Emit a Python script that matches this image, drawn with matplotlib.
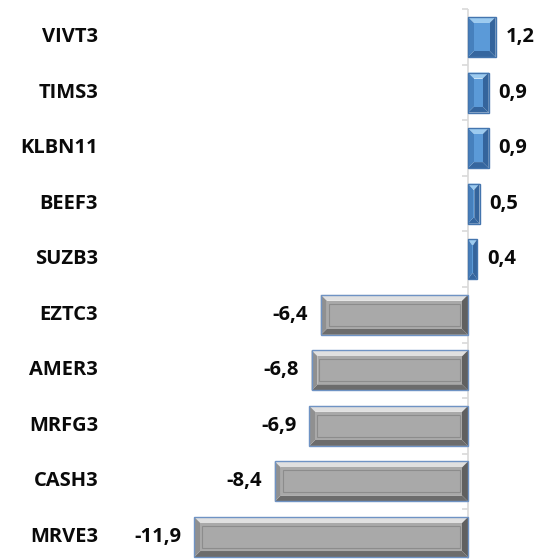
import matplotlib.pyplot as plt
from matplotlib.patches import Polygon, Rectangle

# data
tickers = ['VIVT3', 'TIMS3', 'KLBN11', 'BEEF3', 'SUZB3',
           'EZTC3', 'AMER3', 'MRFG3', 'CASH3', 'MRVE3']
values = [1.2, 0.9, 0.9, 0.5, 0.4, -6.4, -6.8, -6.9, -8.4, -11.9]

W, H = 543, 559
fig = plt.figure(figsize=(W / 100, H / 100), dpi=100)
left_px = 150
ax = fig.add_axes([left_px / W, 0, 1 - left_px / W, 1])

px_per_unit = 23.0
zero_px = 468
ax.set_xlim((left_px - zero_px) / px_per_unit, (W - zero_px) / px_per_unit)
row_px = 55.6
ax.set_ylim(9 + (H - 537) / row_px, -37 / row_px)
ax.axis('off')

font = dict(fontsize=14.5, fontweight='bold', family='Open Sans', color='#0a0a0a')

ypos = list(range(len(tickers)))
bars = ax.barh(ypos, values, height=0.72, color='none', edgecolor='none')

# bevel look
bx_data = 6 / px_per_unit
by_data = 6 / row_px
for bar, v in zip(bars, values):
    x0 = min(bar.get_x(), bar.get_x() + bar.get_width())
    x1 = max(bar.get_x(), bar.get_x() + bar.get_width())
    y0 = bar.get_y()
    y1 = bar.get_y() + bar.get_height()
    if v >= 0:
        face, top, bot, lft, rgt = '#5b9ad8', '#9ccbf0', '#35669f', '#4680bd', '#34649c'
        edge = '#4475ae'
    else:
        face, top, bot, lft, rgt = '#a9a9a9', '#e0e0e0', '#6c6c6c', '#909090', '#606060'
        edge = '#6f93c4'
    bx = min(bx_data, (x1 - x0) / 2.2)
    ix0, ix1 = x0 + bx, x1 - bx
    iy0, iy1 = y0 + by_data, y1 - by_data
    # y axis inverted: y0 is visually the top
    ax.add_patch(Polygon([(x0, y0), (x1, y0), (ix1, iy0), (ix0, iy0)], closed=True, fc=top, ec='none'))
    ax.add_patch(Polygon([(x0, y1), (x1, y1), (ix1, iy1), (ix0, iy1)], closed=True, fc=bot, ec='none'))
    ax.add_patch(Polygon([(x0, y0), (ix0, iy0), (ix0, iy1), (x0, y1)], closed=True, fc=lft, ec='none'))
    ax.add_patch(Polygon([(x1, y0), (ix1, iy0), (ix1, iy1), (x1, y1)], closed=True, fc=rgt, ec='none'))
    ax.add_patch(Rectangle((ix0, iy0), ix1 - ix0, iy1 - iy0, fc=face, ec='none'))
    if v < 0:
        ax.add_patch(Rectangle((ix0 + 0.3 * bx, iy0 + 0.5 * by_data),
                               ix1 - ix0 - 0.6 * bx, iy1 - iy0 - 1.0 * by_data,
                               fc='none', ec='#8c8c8c', lw=0.8))
    ax.add_patch(Rectangle((x0, y0), x1 - x0, y1 - y0, fc='none', ec=edge, lw=1.0))

    label = f'{v:.1f}'.replace('.', ',')
    yc = bar.get_y() + bar.get_height() / 2
    if v >= 0:
        ax.text(x1 + 10 / px_per_unit, yc, label, ha='left', va='center', **font)
    else:
        ax.text(x0 - 13 / px_per_unit, yc, label, ha='right', va='center', **font)

# category labels
for y, t in zip(ypos, tickers):
    ax.text((98 - zero_px) / px_per_unit, y, t, ha='right', va='center', **font)

# zero axis with small ticks
ax.vlines(0, -0.5, len(tickers) - 0.5, color='#d9d9d9', lw=1.2, zorder=0)
tick_len = 6 / px_per_unit
for b in range(len(tickers) + 1):
    ax.hlines(b - 0.5, -tick_len, 0, color='#d9d9d9', lw=1.2, zorder=0)

fig.savefig('out.png', dpi=100)
